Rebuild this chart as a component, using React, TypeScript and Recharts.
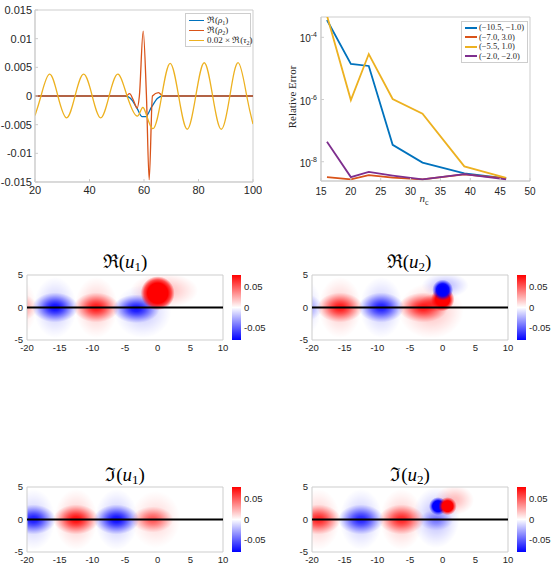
import React from 'react';
import {
  ComposedChart,
  LineChart,
  Line,
  XAxis,
  YAxis,
  ReferenceArea,
  ReferenceLine,
  Legend,
} from 'recharts';

const SANS = '"Liberation Sans", Arial, Helvetica, sans-serif';
const SERIF = '"Liberation Serif", "DejaVu Serif", "Times New Roman", serif';
const INK = '#262626';
const FRAME = '#cdcdcd';

// boundary densities, x in [20, 100]
const rho1 = [
  { x: 20, y: 0 }, { x: 53, y: 0 }, { x: 55, y: -0.0004 }, { x: 57.5, y: -0.0022 },
  { x: 59.3, y: -0.0036 }, { x: 60.6, y: -0.0036 }, { x: 62.8, y: -0.0019 },
  { x: 65, y: -0.0004 }, { x: 67, y: 0 }, { x: 100, y: 0 },
];
const rho2 = [
  { x: 20, y: 0 }, { x: 53.4, y: 0 }, { x: 54.7, y: 0.0004 }, { x: 56, y: -0.0006 },
  { x: 57.5, y: -0.0021 }, { x: 58.3, y: 0 }, { x: 59.7, y: 0.0113 }, { x: 60.9, y: 0 },
  { x: 61.9, y: -0.0146 }, { x: 63.1, y: 0 }, { x: 65.3, y: 0.0006 }, { x: 67, y: 0 },
  { x: 100, y: 0 },
];
const tau2 = [
  { x: 20, y: -0.0034 }, { x: 22.2, y: 0 }, { x: 25.3, y: 0.0038 }, { x: 28.4, y: 0 },
  { x: 31.6, y: -0.0038 }, { x: 34.7, y: 0 }, { x: 37.85, y: 0.0038 }, { x: 41, y: 0 },
  { x: 44.1, y: -0.0038 }, { x: 47.2, y: 0 }, { x: 50.4, y: 0.0038 }, { x: 53.8, y: 0 },
  { x: 57.6, y: -0.0035 }, { x: 59.9, y: -0.0021 }, { x: 63.2, y: -0.0057 }, { x: 66.5, y: 0 },
  { x: 69.6, y: 0.0057 }, { x: 72.7, y: 0 }, { x: 75.85, y: -0.0058 }, { x: 79, y: 0 },
  { x: 82.1, y: 0.0058 }, { x: 85.2, y: 0 }, { x: 88.35, y: -0.0058 }, { x: 91.5, y: 0 },
  { x: 94.6, y: 0.0058 }, { x: 97.7, y: 0 }, { x: 100, y: -0.0049 },
];
const densityNames = ['rho1', 'rho2', 'tau2'];
const densityXTicks = [20, 40, 60, 80, 100];
const densityYTicks = [-0.015, -0.01, -0.005, 0, 0.005, 0.01, 0.015];

// convergence in n_c for four target points
const nc = [16, 20, 23, 27, 32, 39, 46];
const errA = [3.6e-4, 1.4e-5, 1.2e-5, 3.5e-8, 9.4e-9, 4.2e-9, 2.9e-9];
const errB = [3.2e-9, 2.7e-9, 3.7e-9, 3.1e-9, 2.7e-9, 3.9e-9, 2.9e-9];
const errC = [5e-4, 9.6e-7, 2.9e-5, 1.04e-6, 3.5e-7, 7.1e-9, 3.0e-9];
const errD = [4.4e-8, 3.2e-9, 4.7e-9, 3.6e-9, 2.7e-9, 4.0e-9, 2.7e-9];
const targetNames = ['(−10.5, −1.0)', '(−7.0, 3.0)', '(−5.5, 1.0)', '(−2.0, −2.0)'];
const errXTicks = [15, 20, 25, 30, 35, 40, 45, 50];
const errYTicks = [1e-8, 1e-6, 1e-4];

const errRows = nc.map((n, i) => ({ n, a: errA[i], b: errB[i], c: errC[i], d: errD[i] }));

// field lobes: centre (x, y), value v, half extents rx, ry
const re1Blobs = [
  { x: -21.8, y: 0, v: 0.014, rx: 3.3, ry: 4.7 },
  { x: -15.7, y: 0, v: -0.016, rx: 3.3, ry: 4.7 },
  { x: -9.4, y: 0, v: 0.016, rx: 3.3, ry: 4.7 },
  { x: -2.3, y: -0.6, v: -0.016, rx: 4.4, ry: 4.1 },
  { x: 1.0, y: 2.6, v: 0.02, rx: 5.2, ry: 2.7 },
  { x: -21.8, y: 0, v: 0.04, rx: 3.4, ry: 2.3 },
  { x: -15.7, y: 0, v: -0.075, rx: 3.5, ry: 2.3 },
  { x: -9.4, y: 0, v: 0.07, rx: 3.5, ry: 2.3 },
  { x: -3.3, y: -0.2, v: -0.072, rx: 3.6, ry: 2.2 },
  { x: 0, y: 2.2, v: 0.26, rx: 2.6, ry: 2.6 },
];
const re2Blobs = [
  { x: -21.8, y: 0, v: -0.014, rx: 3.3, ry: 4.7 },
  { x: -15.7, y: 0, v: 0.016, rx: 3.3, ry: 4.7 },
  { x: -9.4, y: 0, v: -0.016, rx: 3.3, ry: 4.7 },
  { x: -1.8, y: -0.5, v: 0.018, rx: 5.0, ry: 4.3 },
  { x: 0.4, y: 3.4, v: -0.02, rx: 3.6, ry: 1.9 },
  { x: -21.8, y: 0, v: -0.04, rx: 3.4, ry: 2.3 },
  { x: -15.7, y: 0, v: 0.07, rx: 3.5, ry: 2.3 },
  { x: -9.4, y: 0, v: -0.068, rx: 3.5, ry: 2.3 },
  { x: -3.0, y: 0, v: 0.07, rx: 3.8, ry: 2.3 },
  { x: -1.0, y: 0.7, v: 0.05, rx: 2.6, ry: 1.4 },
  { x: 0, y: 1.25, v: 0.2, rx: 1.8, ry: 1.8 },
  { x: 0, y: 2.7, v: -0.17, rx: 1.6, ry: 1.6 },
];
const im1Blobs = [
  { x: -19, y: 0, v: -0.015, rx: 3.3, ry: 4.7 },
  { x: -12.5, y: 0, v: 0.016, rx: 3.3, ry: 4.7 },
  { x: -6.3, y: 0, v: -0.016, rx: 3.3, ry: 4.7 },
  { x: -0.3, y: 0, v: 0.012, rx: 3.8, ry: 4.4 },
  { x: -19, y: 0, v: -0.07, rx: 3.4, ry: 2.3 },
  { x: -12.5, y: 0, v: 0.075, rx: 3.5, ry: 2.3 },
  { x: -6.3, y: 0, v: -0.075, rx: 3.5, ry: 2.3 },
  { x: -0.8, y: 0, v: 0.048, rx: 3.2, ry: 2.0 },
];
const im2Blobs = [
  { x: -19, y: 0, v: 0.015, rx: 3.3, ry: 4.7 },
  { x: -12.5, y: 0, v: -0.016, rx: 3.3, ry: 4.7 },
  { x: -6.3, y: 0, v: 0.016, rx: 3.3, ry: 4.7 },
  { x: -1.0, y: 0.3, v: -0.02, rx: 3.6, ry: 4.7 },
  { x: 1.8, y: 3.0, v: 0.02, rx: 3.0, ry: 2.3 },
  { x: -19, y: 0, v: 0.065, rx: 3.4, ry: 2.3 },
  { x: -12.5, y: 0, v: -0.065, rx: 3.5, ry: 2.3 },
  { x: -6.3, y: 0, v: 0.065, rx: 3.5, ry: 2.3 },
  { x: -1.0, y: -0.1, v: -0.03, rx: 2.6, ry: 1.6 },
  { x: -0.7, y: 2.05, v: -0.18, rx: 1.4, ry: 1.4 },
  { x: 0.75, y: 2.05, v: 0.18, rx: 1.4, ry: 1.4 },
];
const fieldXTicks = [-20, -15, -10, -5, 0, 5, 10];
const fieldYTicks = [-5, 0, 5];
const colorTicks = [-0.05, 0, 0.05];
const CMAX = 0.079;

// radial profile of a lobe (offset, relative strength)
const falloff = [[0, 1], [0.2, 0.92], [0.4, 0.7], [0.6, 0.44], [0.8, 0.2], [1, 0]];

const axisTick = (size: number) => ({ fontSize: size, fill: INK, fontFamily: SANS });

function lobeShape(id: string, v: number) {
  return (p: any) => {
    const w = Math.abs(p.width);
    const h = Math.abs(p.height);
    const col = v > 0 ? '#ff0000' : '#0000ff';
    const a = Math.abs(v) / CMAX;
    return (
      <g clipPath={p.clipPath}>
        <defs>
          <radialGradient id={id}>
            {falloff.map(([o, g]) => (
              <stop key={o} offset={o} stopColor={col} stopOpacity={Math.min(1, a * g)} />
            ))}
          </radialGradient>
        </defs>
        <ellipse cx={p.x + w / 2} cy={p.y + h / 2} rx={w / 2} ry={h / 2} fill={`url(#${id})`} />
      </g>
    );
  };
}

function FieldPanel({ id, blobs, left, top }: any) {
  return (
    <div style={{ position: 'absolute', left, top }}>
      <ComposedChart width={231} height={86} margin={{ top: 5, right: 8, bottom: 0, left: 0 }}>
        <XAxis
          type="number"
          dataKey="x"
          domain={[-20, 10]}
          ticks={fieldXTicks}
          allowDataOverflow
          height={16}
          axisLine={false}
          tickLine={false}
          tickSize={0}
          tickMargin={4}
          tick={axisTick(9.5)}
          interval={0}
        />
        <YAxis
          type="number"
          domain={[-5, 5]}
          ticks={fieldYTicks}
          allowDataOverflow
          width={27}
          axisLine={false}
          tickLine={false}
          tickSize={0}
          tickMargin={4}
          tick={axisTick(9.5)}
          interval={0}
        />
        {blobs.map((b: any, i: number) => (
          <ReferenceArea
            key={i}
            x1={b.x - b.rx}
            x2={b.x + b.rx}
            y1={b.y - b.ry}
            y2={b.y + b.ry}
            ifOverflow="hidden"
            shape={lobeShape(`${id}-${i}`, b.v)}
          />
        ))}
        <ReferenceLine y={0} stroke="#000" strokeWidth={2} />
        <ReferenceArea x1={-20} x2={10} y1={-5} y2={5} fill="none" stroke={FRAME} strokeWidth={1} />
      </ComposedChart>
    </div>
  );
}

function Colorbar({ id, left, top }: any) {
  const bar = (p: any) => (
    <g>
      <defs>
        <linearGradient id={id} x1="0" y1="0" x2="0" y2="1">
          <stop offset="0" stopColor="#ff0000" />
          <stop offset="0.5" stopColor="#ffffff" />
          <stop offset="1" stopColor="#0000ff" />
        </linearGradient>
      </defs>
      <rect x={p.x} y={p.y} width={Math.abs(p.width)} height={Math.abs(p.height)} fill={`url(#${id})`} />
    </g>
  );
  return (
    <div style={{ position: 'absolute', left, top }}>
      <ComposedChart width={40} height={75} margin={{ top: 5, right: 0, bottom: 5, left: 0 }}>
        <XAxis type="number" dataKey="x" domain={[0, 1]} allowDataOverflow hide />
        <YAxis
          type="number"
          orientation="right"
          domain={[-CMAX, CMAX]}
          ticks={colorTicks}
          allowDataOverflow
          width={31}
          axisLine={false}
          tickLine={false}
          tickSize={0}
          tickMargin={3}
          tick={axisTick(9.5)}
          interval={0}
          tickFormatter={(v: number) => (v === 0 ? '0' : v.toFixed(2))}
        />
        <ReferenceArea x1={0} x2={1} y1={-CMAX} y2={CMAX} shape={bar} />
      </ComposedChart>
    </div>
  );
}

function FieldTitle({ cx, cy, part, sub }: any) {
  return (
    <div
      style={{
        position: 'absolute', left: cx - 60, top: cy - 12, width: 120, textAlign: 'center',
        fontFamily: SERIF, fontSize: 19, lineHeight: '24px', color: '#000',
      }}
    >
      {part}(<i>u</i><sub style={{ fontSize: 13, verticalAlign: '-3px' }}>{sub}</sub>)
    </div>
  );
}

const subStyle = { fontSize: 6, verticalAlign: '-2px', lineHeight: 0 };
const densityLabels: Record<string, React.ReactNode> = {
  rho1: <span>ℜ(<i>ρ</i><sub style={subStyle}>1</sub>)</span>,
  rho2: <span>ℜ(<i>ρ</i><sub style={subStyle}>2</sub>)</span>,
  tau2: <span>0.02 × ℜ(<i>τ</i><sub style={subStyle}>2</sub>)</span>,
};

const byOrder = (order: string[]) => (a: any, b: any) => order.indexOf(a.value) - order.indexOf(b.value);

function DensityLegend({ payload }: any) {
  const items = [...(payload || [])].sort(byOrder(densityNames));
  return (
    <div style={{ border: `1px solid ${FRAME}`, background: '#fff', padding: '1px 3px', fontFamily: SERIF, fontSize: 9, color: INK }}>
      {items.map((p: any) => (
        <div key={p.value} style={{ display: 'flex', alignItems: 'center', height: 10, lineHeight: '10px', whiteSpace: 'nowrap' }}>
          <span style={{ width: 15, borderTop: `1.5px solid ${p.color}`, marginRight: 3, flex: 'none' }} />
          {densityLabels[p.value]}
        </div>
      ))}
    </div>
  );
}

function TargetLegend({ payload }: any) {
  const items = [...(payload || [])].sort(byOrder(targetNames));
  return (
    <div style={{ border: `1px solid ${FRAME}`, background: '#fff', padding: '1px 3px', fontFamily: SERIF, fontSize: 8.5, color: INK }}>
      {items.map((p: any) => (
        <div key={p.value} style={{ display: 'flex', alignItems: 'center', height: 9.5, lineHeight: '9.5px', whiteSpace: 'nowrap' }}>
          <span style={{ width: 12, borderTop: `2px solid ${p.color}`, marginRight: 2, flex: 'none' }} />
          <span>{p.value}</span>
        </div>
      ))}
    </div>
  );
}

function PowerTick(props: any) {
  const { x, y, payload } = props;
  const e = Math.round(Math.log10(payload.value));
  return (
    <text x={x} y={y} dy={5} textAnchor="end" fontSize={10} fontFamily={SANS} fill={INK}>
      10<tspan dy={-5} fontSize={7}>{e}</tspan>
    </text>
  );
}

export default function App() {
  return (
    <div style={{ position: 'absolute', left: 0, top: 0, width: 554, height: 571, background: '#fff', overflow: 'hidden' }}>
      {/* densities */}
      <div style={{ position: 'absolute', left: 0, top: 0 }}>
        <LineChart width={262} height={200} margin={{ top: 10, right: 9, bottom: 0, left: 0 }}>
          <XAxis
            type="number"
            dataKey="x"
            domain={[20, 100]}
            ticks={densityXTicks}
            allowDataOverflow
            height={18}
            axisLine={{ stroke: FRAME }}
            tickLine={{ stroke: FRAME }}
            tickSize={-3}
            tickMargin={7}
            tick={axisTick(11)}
            interval={0}
          />
          <YAxis
            type="number"
            domain={[-0.015, 0.015]}
            ticks={densityYTicks}
            allowDataOverflow
            width={35}
            axisLine={{ stroke: FRAME }}
            tickLine={{ stroke: FRAME }}
            tickSize={-3}
            tickMargin={6}
            tick={axisTick(11)}
            interval={0}
            tickFormatter={(v: number) => String(v)}
          />
          <ReferenceArea x1={20} x2={100} y1={-0.015} y2={0.015} fill="none" stroke={FRAME} />
          <Line data={rho1} dataKey="y" name="rho1" type="monotone" stroke="#0072BD" strokeWidth={1.3} dot={false} isAnimationActive={false} />
          <Line data={rho2} dataKey="y" name="rho2" type="monotone" stroke="#D95319" strokeWidth={1.3} dot={false} isAnimationActive={false} />
          <Line data={tau2} dataKey="y" name="tau2" type="natural" stroke="#EDB120" strokeWidth={1.3} dot={false} isAnimationActive={false} />
          <Legend
            layout="vertical"
            align="center"
            verticalAlign="middle"
            content={<DensityLegend />}
            wrapperStyle={{ position: 'absolute', left: 185, top: 13, width: 66 }}
          />
        </LineChart>
      </div>

      {/* relative error */}
      <div style={{ position: 'absolute', left: 277, top: 0 }}>
        <LineChart width={262} height={200} data={errRows} margin={{ top: 17, right: 9, bottom: 0, left: 0 }}>
          <XAxis
            type="number"
            dataKey="n"
            domain={[15, 50]}
            ticks={errXTicks}
            allowDataOverflow
            height={19}
            axisLine={{ stroke: FRAME }}
            tickLine={{ stroke: FRAME }}
            tickSize={-3}
            tickMargin={10}
            tick={axisTick(10)}
            interval={0}
          />
          <YAxis
            type="number"
            scale="log"
            domain={[2.4e-9, 4.5e-4]}
            ticks={errYTicks}
            allowDataOverflow
            width={44}
            axisLine={{ stroke: FRAME }}
            tickLine={{ stroke: FRAME }}
            tickSize={-3}
            tickMargin={7}
            tick={<PowerTick />}
            interval={0}
          />
          <ReferenceArea x1={15} x2={50} y1={2.4e-9} y2={4.5e-4} fill="none" stroke={FRAME} />
          <Line dataKey="a" name={targetNames[0]} stroke="#0072BD" strokeWidth={1.8} dot={false} isAnimationActive={false} />
          <Line dataKey="b" name={targetNames[1]} stroke="#D95319" strokeWidth={1.8} dot={false} isAnimationActive={false} />
          <Line dataKey="c" name={targetNames[2]} stroke="#EDB120" strokeWidth={1.8} dot={false} isAnimationActive={false} />
          <Line dataKey="d" name={targetNames[3]} stroke="#7E2F8E" strokeWidth={1.8} dot={false} isAnimationActive={false} />
          <Legend
            layout="vertical"
            align="center"
            verticalAlign="middle"
            content={<TargetLegend />}
            wrapperStyle={{ position: 'absolute', left: 184, top: 21, width: 67 }}
          />
        </LineChart>
      </div>
      <div
        style={{
          position: 'absolute', left: 292 - 50, top: 97 - 7, width: 100, height: 14, lineHeight: '14px',
          textAlign: 'center', transform: 'rotate(-90deg)', fontFamily: SERIF, fontSize: 11, color: INK,
        }}
      >
        Relative Error
      </div>
      <div style={{ position: 'absolute', left: 404, top: 191, width: 40, textAlign: 'center', fontFamily: SERIF, fontSize: 11, color: INK, lineHeight: '14px' }}>
        <i>n</i><sub style={{ fontSize: 8 }}>c</sub>
      </div>

      {/* fields */}
      <FieldTitle cx={125} cy={262} part="ℜ" sub="1" />
      <FieldTitle cx={409} cy={262} part="ℜ" sub="2" />
      <FieldTitle cx={125} cy={475} part="ℑ" sub="1" />
      <FieldTitle cx={410} cy={475} part="ℑ" sub="2" />

      <FieldPanel id="re1" blobs={re1Blobs} left={0} top={270} />
      <FieldPanel id="re2" blobs={re2Blobs} left={285} top={270} />
      <FieldPanel id="im1" blobs={im1Blobs} left={0} top={482} />
      <FieldPanel id="im2" blobs={im2Blobs} left={285} top={482} />

      <Colorbar id="cb-re1" left={232} top={270} />
      <Colorbar id="cb-re2" left={517} top={270} />
      <Colorbar id="cb-im1" left={232} top={482} />
      <Colorbar id="cb-im2" left={517} top={482} />
    </div>
  );
}
